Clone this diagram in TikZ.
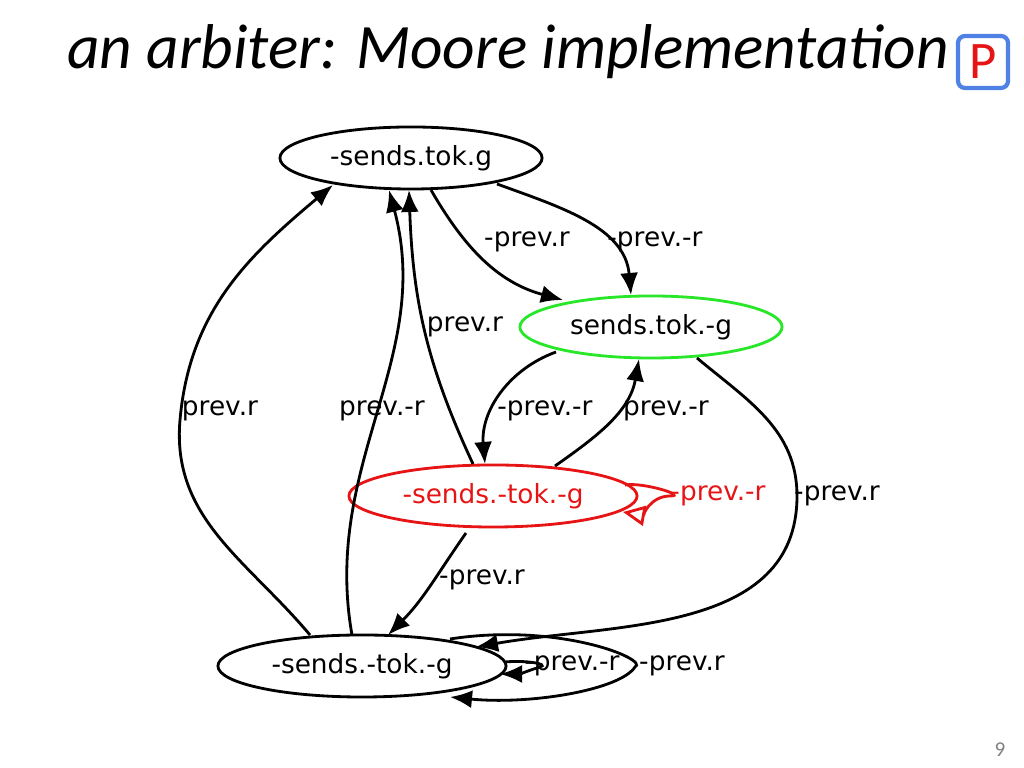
\documentclass[tikz,border=0pt]{standalone}
\usepackage{fontspec}
\setmainfont{DejaVu Sans}
\newfontfamily\titlefont{Carlito}
\usetikzlibrary{shapes.geometric,arrows.meta,calc}
\tikzset{st/.style={ellipse,draw,thick,minimum width=2.62cm,minimum height=0.62cm,inner sep=0pt}}
\tikzset{l/.style={font=\fontsize{7.5}{7.5}\selectfont,inner sep=1pt}}
\tikzset{e/.style={-{Latex[length=2.2mm,width=1.8mm]},thick}}
\definecolor{grn}{RGB}{40,230,40}
\definecolor{rd}{RGB}{230,20,20}
\definecolor{bl}{RGB}{80,130,230}
\begin{document}
\begin{tikzpicture}[x=0.01cm,y=-0.01cm,font=\fontsize{7.5}{7.5}\selectfont]
  \useasboundingbox (0,0) rectangle (1024,768);
  \node[font=\titlefont\itshape\fontsize{18}{18}\selectfont] (title) at (508,52) {an arbiter: Moore implementation};
  \node[draw=bl,very thick,rounded corners=2pt,minimum width=0.5cm,minimum height=0.52cm,text=rd,font=\titlefont\fontsize{15}{15}\selectfont,inner sep=0pt] (pbox) at (983,62) {P};
  \node[font=\titlefont\fontsize{6}{6}\selectfont,text=gray] (page) at (1000,750) {9};

  \node[st] (A) at (411,158) {-sends.tok.g};
  \node[st,draw=grn] (B) at (651,327) {sends.tok.-g};
  \node[st,draw=rd,text=rd,minimum width=2.88cm] (C) at (493,496) {-sends.-tok.-g};
  \node[st,minimum width=2.88cm] (D) at (362,666) {-sends.-tok.-g};

  % edges
  \draw[e] ($(A)+(20,32)$) to[out=-60,in=165] ($(B)+(-88,-27)$);
  \draw[e] ($(A)+(86,26)$) to[out=-20,in=95] ($(B)+(-20,-32)$);
  \draw[e] ($(B)+(-95,25)$) to[out=200,in=95] ($(C)+(-8,-32)$);
  \draw[e] ($(C)+(62,-30)$) to[out=35,in=-100] ($(B)+(-12,32)$);
  \draw[e] ($(C)+(-20,-32)$) to[out=115,in=-88] ($(A)+(-2,32)$);
  \draw[e] ($(D)+(-52,-31)$) to[out=130,in=-95] (180,420) to[out=85,in=220] ($(A)+(-78,27)$);
  \draw[e] ($(D)+(-10,-31)$) to[out=100,in=-75] ($(A)+(-22,32)$);
  \draw[e] ($(C)+(-27,37)$) to[out=-125,in=45] ($(D)+(26,-31)$);
  \draw[e] ($(B)+(46,31)$) to[out=-40,in=90] (797,496) to[out=-90,in=10] ($(D)+(114,-19)$);
  \draw[e,draw=rd,-{Triangle[open,length=2.2mm,width=2mm]}] ($(C)+(132,-11)$) to[out=10,in=0,looseness=1] (670,496) to[out=180,in=-10] ($(C)+(130,16)$);
  \draw[e] ($(D)+(143,-4)$) .. controls (525,660) and (550,664) .. (540,667) .. controls (530,670) and (520,674) .. ($(D)+(138,8)$);
  \draw[e] ($(D)+(88,-27)$) .. controls (560,622) and (650,660) .. (635,667) .. controls (620,690) and (530,705) .. ($(D)+(88,31)$);

  % labels
  \node[l] (lab1) at (527,242) {-prev.r};
  \node[l] (lab2) at (655,242) {-prev.-r};
  \node[l] (lab3) at (545,411) {-prev.-r};
  \node[l] (lab4) at (666,411) {prev.-r};
  \node[l] (lab5) at (465,327) {prev.r};
  \node[l] (lab6) at (220,411) {prev.r};
  \node[l] (lab7) at (382,411) {prev.-r};
  \node[l] (lab8) at (482,580) {-prev.r};
  \node[l] (lab9) at (837,496) {-prev.r};
  \node[l,text=rd] (lab10) at (718,496) {-prev.-r};
  \node[l] (lab11) at (572,666) {-prev.-r};
  \node[l] (lab12) at (682,666) {-prev.r};
\end{tikzpicture}
\end{document}
